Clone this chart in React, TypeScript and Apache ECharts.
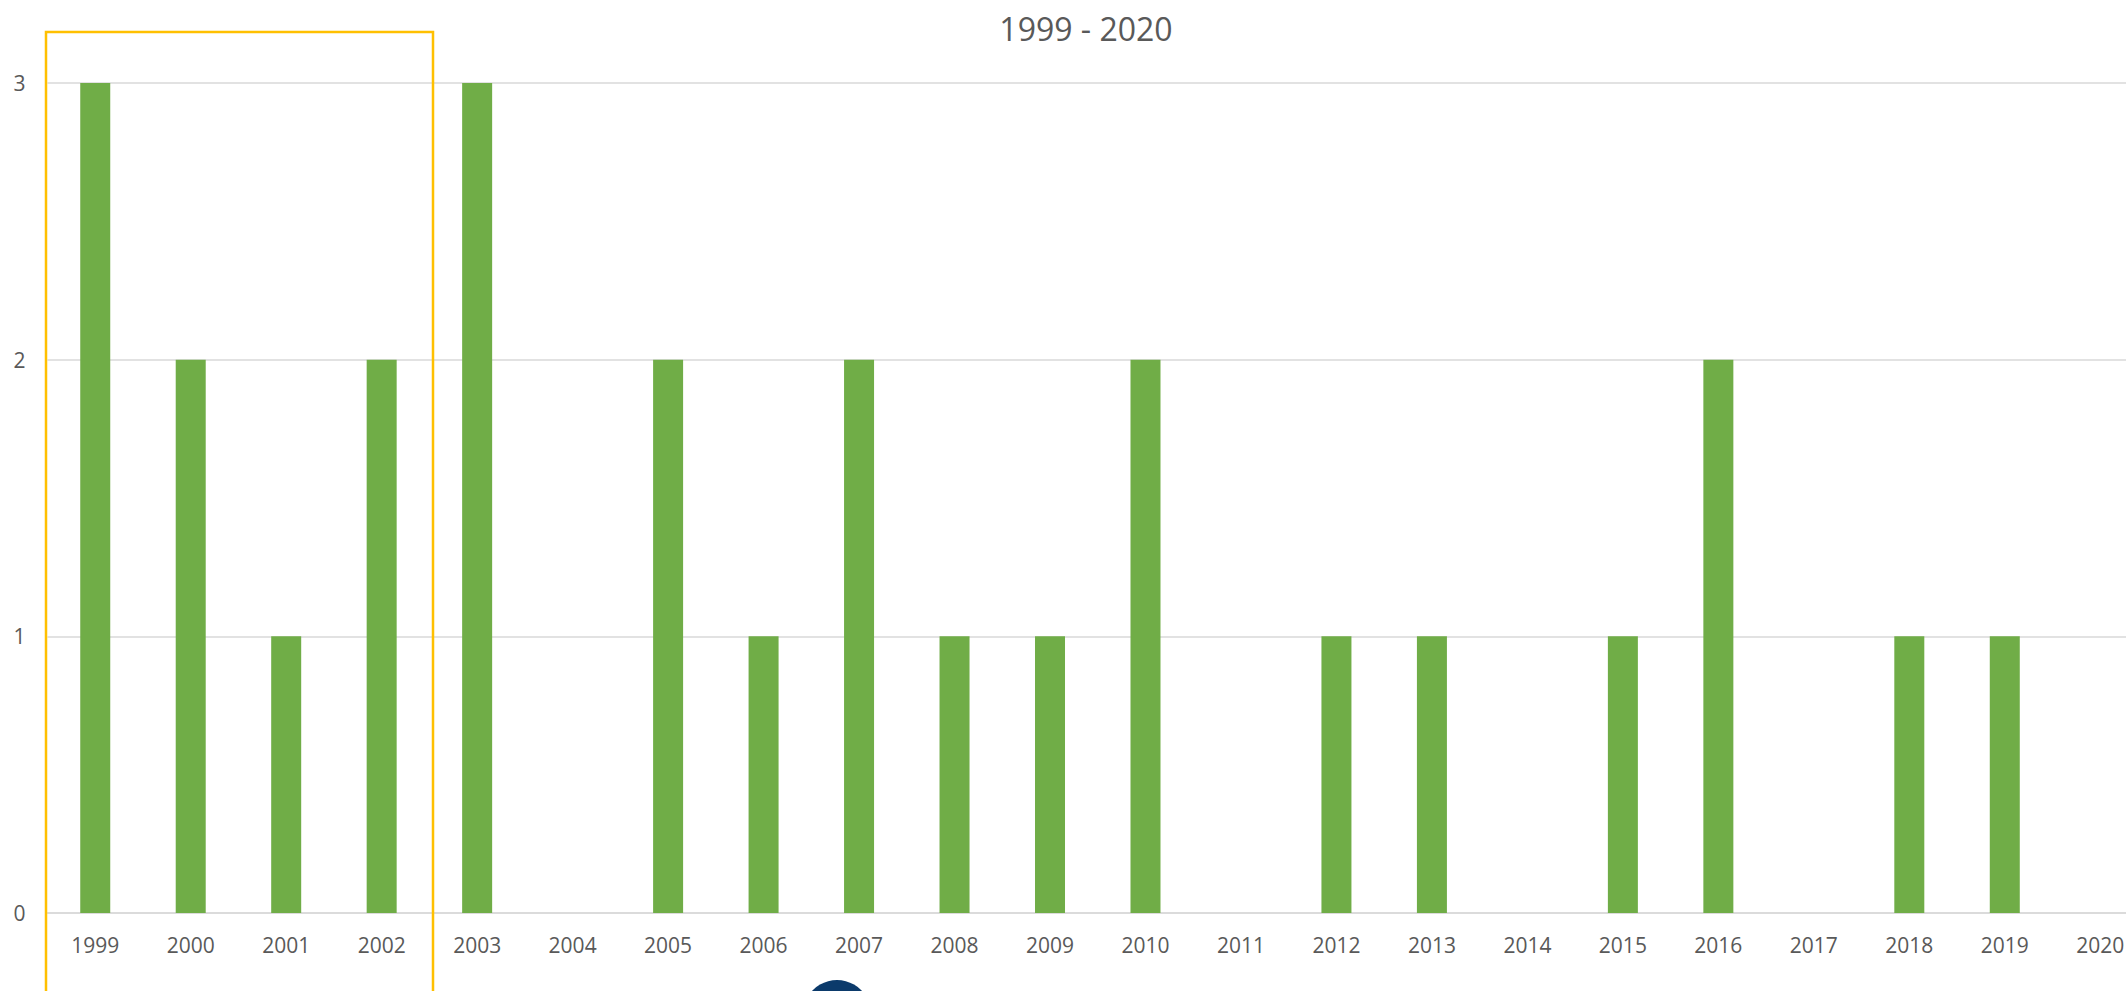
import React, { useEffect, useRef } from "react";
import * as echarts from "echarts";

const years = [
  "1999", "2000", "2001", "2002", "2003", "2004", "2005", "2006", "2007", "2008", "2009",
  "2010", "2011", "2012", "2013", "2014", "2015", "2016", "2017", "2018", "2019", "2020",
];
const counts = [3, 2, 1, 2, 3, 0, 2, 1, 2, 1, 1, 2, 0, 1, 1, 0, 1, 2, 0, 1, 1, 0];
const yTicks = [0, 1, 2, 3];
const titleText = "1999 - 2020";

export default function App() {
  const ref = useRef<HTMLDivElement>(null);
  useEffect(() => {
    if (!ref.current) return;
    const chart = echarts.init(ref.current, undefined, { renderer: "svg" });
    const font = "'Open Sans', sans-serif";
    chart.setOption({
      animation: false,
      backgroundColor: "#ffffff",
      grid: { left: 47.5, right: 0, top: 83, bottom: 78, containLabel: false },
      xAxis: {
        type: "category",
        data: years,
        axisLine: { show: true, lineStyle: { color: "#d9d9d9", width: 1.5 } },
        axisTick: { show: false },
        axisLabel: { color: "#595959", fontSize: 21, fontFamily: font, margin: 21, interval: 0 },
        splitLine: { show: false },
      },
      yAxis: {
        type: "value",
        min: yTicks[0],
        max: yTicks[yTicks.length - 1],
        interval: 1,
        axisLine: { show: false },
        axisTick: { show: false },
        axisLabel: { color: "#595959", fontSize: 21, fontFamily: font, margin: 22 },
        splitLine: { show: true, lineStyle: { color: "#d9d9d9", width: 1.5 } },
      },
      series: [
        {
          type: "bar",
          data: counts,
          barWidth: 30,
          itemStyle: { color: "#70AD47" },
        },
      ],
      graphic: [
        {
          type: "text",
          x: 1086,
          y: 28,
          style: {
            text: titleText,
            fill: "#595959",
            fontSize: 32,
            fontFamily: font,
            align: "center",
            verticalAlign: "middle",
          },
        },
        {
          type: "rect",
          shape: { x: 46, y: 32, width: 387, height: 1000 },
          style: { fill: "none", stroke: "#FFC000", lineWidth: 2.5 },
          z: 100,
        },
        {
          type: "circle",
          shape: { cx: 837, cy: 1014, r: 34 },
          style: { fill: "#0b3a6b" },
          z: 100,
        },
        {
          type: "arc",
          shape: { cx: 837, cy: 1016, r: 20, startAngle: Math.PI * 1.15, endAngle: Math.PI * 1.85 },
          style: { stroke: "#4a7398", lineWidth: 3, fill: "none" },
          z: 101,
        },
      ],
    });
    return () => chart.dispose();
  }, []);
  return (
    <div
      style={{ position: "fixed", left: 0, top: 0, width: 2126, height: 991, overflow: "hidden", background: "#fff" }}
    >
      <div ref={ref} style={{ width: 2148, height: 991 }} />
    </div>
  );
}
